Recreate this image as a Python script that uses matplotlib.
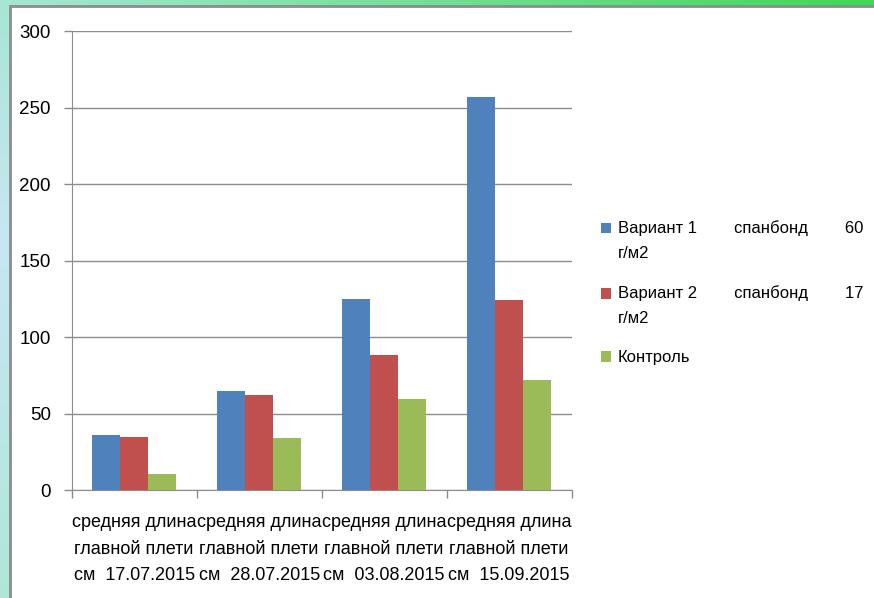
import numpy as np
import matplotlib.pyplot as plt
from matplotlib.colors import to_rgb
from matplotlib.patches import Rectangle
from matplotlib.legend_handler import HandlerPatch, update_from_first_child

categories = [
    "средняя длина\nглавной плети\nсм  17.07.2015",
    "средняя длина\nглавной плети\nсм  28.07.2015",
    "средняя длина\nглавной плети\nсм  03.08.2015",
    "средняя длина\nглавной плети\nсм  15.09.2015",
]
variant1 = [36, 65, 125, 257]
variant2 = [35, 62, 88.5, 124.5]
control = [11, 34.5, 60, 72]
series_names = [
    "Вариант 1        спанбонд        60\nг/м2",
    "Вариант 2        спанбонд        17\nг/м2",
    "Контроль",
]
colors = ["#4f81bd", "#c0504d", "#9bbb59"]
yticks = [0, 50, 100, 150, 200, 250, 300]

plt.rcParams["font.family"] = ["Liberation Sans", "DejaVu Sans"]
fs = 13

fig = plt.figure(figsize=(8.74, 5.98), dpi=100)

# slide background: gradient strips and white panel
bg = fig.add_axes([0, 0, 1, 1], zorder=-10)
bg.axis("off")
t = np.linspace(0, 1, 200)[None, :, None]
top = (1 - t) * np.array(to_rgb("#a6e6d4")) + t * np.array(to_rgb("#3dd957"))
bg.imshow(top, extent=(0, 874, 10, 0), aspect="auto")
s = np.linspace(0, 1, 200)[:, None, None]
mid = np.array(to_rgb("#c8e6f4"))
left = np.where(s < 0.4,
                (1 - s / 0.4) * np.array(to_rgb("#a6e6d4")) + (s / 0.4) * mid,
                (1 - (s - 0.4) / 0.6) * mid + ((s - 0.4) / 0.6) * np.array(to_rgb("#aee8d8")))
bg.imshow(left, extent=(0, 12, 598, 0), aspect="auto")
bg.add_patch(Rectangle((10, 6), 880, 600, facecolor="white", edgecolor="#8c8c8c", lw=2))
bg.set_xlim(0, 874)
bg.set_ylim(598, 0)

ax = fig.add_axes([0.082, 0.180, 0.572, 0.768])
x = np.arange(len(categories))
w = 1 / 4.5
bars = []
for i, (vals, c) in enumerate(zip([variant1, variant2, control], colors)):
    bars.append(ax.bar(x + (i - 1) * w, vals, w, color=c, label=series_names[i], zorder=3))

ax.set_xlim(-0.5, len(categories) - 0.5)
ax.set_ylim(0, 300)
ax.set_yticks(yticks)
ax.set_xticks(x)
ax.set_xticklabels(categories, fontsize=fs, linespacing=1.75)
ax.set_xticks(np.arange(len(categories) + 1) - 0.5, minor=True)
ax.tick_params(axis="x", which="major", length=0, pad=17)
ax.tick_params(axis="x", which="minor", length=6, color="#8c8c8c", width=1)
ax.tick_params(axis="y", length=6, color="#8c8c8c", width=1, pad=9, labelsize=fs + 0.5)
ax.grid(axis="y", color="#8c8c8c", lw=1, zorder=0)
for side in ["top", "right"]:
    ax.spines[side].set_visible(False)
for side in ["left", "bottom"]:
    ax.spines[side].set_color("#8c8c8c")
ax.set_facecolor("none")


# square next to the first line of a two-line label
def top_square(legend, orig_handle, xdescent, ydescent, width, height, fontsize):
    return Rectangle((-xdescent, -ydescent + 9), width, height)


shifted = HandlerPatch(patch_func=top_square, update_func=update_from_first_child)
leg = fig.legend(loc="upper left", bbox_to_anchor=(601 / 874, 1 - 220 / 598),
                 frameon=False, fontsize=12, handlelength=0.6, handleheight=0.6,
                 handletextpad=0.4, labelspacing=1.45, borderpad=0, borderaxespad=0,
                 handler_map={bars[0]: shifted, bars[1]: shifted})
for txt in leg.get_texts():
    txt.set_linespacing(1.85)

fig.savefig("out.png", dpi=100)
